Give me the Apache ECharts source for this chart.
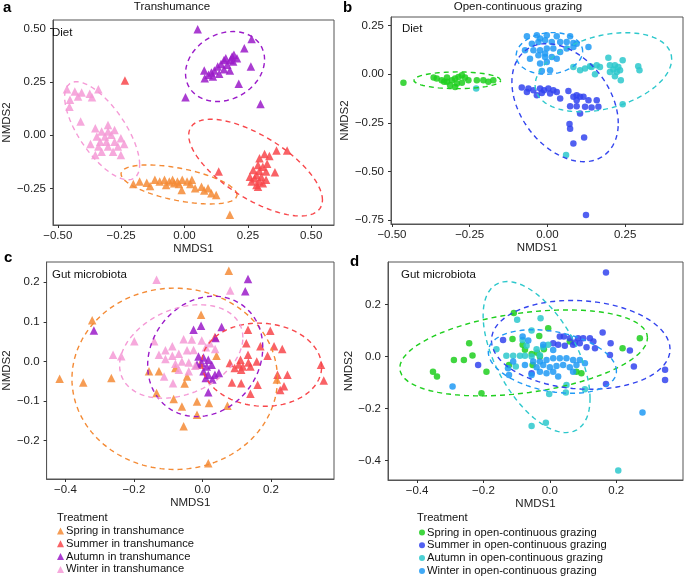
<!DOCTYPE html>
<html><head><meta charset="utf-8">
<script src="https://cdn.jsdelivr.net/npm/echarts@6/dist/echarts.min.js"></script>
<style>html,body{margin:0;padding:0;background:#fff}#c{width:685px;height:577px}</style>
</head><body><div id="c"></div>
<script>
// ---------- Tick values ----------
const ticksA_x = [-0.5, -0.25, 0, 0.25, 0.5];
const ticksA_y = [-0.25, 0, 0.25, 0.5];
const ticksB_x = [-0.5, -0.25, 0, 0.25];
const ticksB_y = [-0.75, -0.5, -0.25, 0, 0.25];
const ticksC_x = [-0.4, -0.2, 0, 0.2];
const ticksC_y = [-0.2, -0.1, 0, 0.1, 0.2];
const ticksD_x = [-0.4, -0.2, 0, 0.2];
const ticksD_y = [-0.4, -0.2, 0, 0.2];
// axis extents
const rangeA = [-0.519, 0.590, -0.4205, 0.540];
const rangeB = [-0.503, 0.436, -0.769, 0.294];
const rangeC = [-0.455, 0.384, -0.297, 0.251];
const rangeD = [-0.4875, 0.401, -0.474, 0.363];

const groupsTrans = ["Spring in transhumance", "Summer in transhumance", "Autumn in transhumance", "Winter in transhumance"];
const groupsOpen = ["Spring in open-continuous grazing", "Summer in open-continuous grazing", "Autumn in open-continuous grazing", "Winter in open-continuous grazing"];

// ---------- Panel a: Transhumance diet ----------
const aSpring = [[-0.202,-0.228],[-0.177,-0.217],[-0.149,-0.222],[-0.136,-0.2375],[-0.117,-0.209],[-0.098,-0.217],[-0.079,-0.209],[-0.060,-0.217],[-0.047,-0.209],[-0.028,-0.217],[-0.009,-0.209],[0.010,-0.217],[0.029,-0.209],[0.023,-0.228],[-0.022,-0.228],[-0.0725,-0.233],[0.067,-0.241],[0.093,-0.248],[0.106,-0.272],[0.125,-0.280],[-0.011,-0.256],[0.042,-0.248],[0.078,-0.259],[-0.041,-0.225],[0.179,-0.373]];
const aSummer = [[-0.235,0.256],[0.135,-0.170],[0.316,-0.0875],[0.363,-0.072],[0.405,-0.072],[0.335,-0.097],[0.296,-0.108],[0.326,-0.134],[0.290,-0.139],[0.309,-0.147],[0.271,-0.1625],[0.296,-0.166],[0.322,-0.170],[0.357,-0.173],[0.284,-0.186],[0.258,-0.194],[0.303,-0.194],[0.277,-0.202],[0.322,-0.209],[0.265,-0.217],[0.296,-0.217],[0.284,-0.233],[0.309,-0.225],[0.290,-0.241]];
const aAutumn = [[0.052,0.497],[0.265,0.451],[0.236,0.408],[0.195,0.377],[0.207,0.361],[0.182,0.353],[0.156,0.353],[0.144,0.334],[0.169,0.330],[0.131,0.322],[0.156,0.309],[0.118,0.303],[0.106,0.294],[0.078,0.303],[0.095,0.283],[0.080,0.267],[0.112,0.275],[0.137,0.288],[0.179,0.303],[0.192,0.345],[0.163,0.361],[0.188,0.369],[0.262,0.322],[0.214,0.241],[0.004,0.178],[0.300,0.147]];
const aWinter = [[-0.464,0.216],[-0.433,0.205],[-0.406,0.200],[-0.374,0.194],[-0.340,0.216],[-0.452,0.166],[-0.420,0.181],[-0.365,0.178],[-0.454,0.134],[-0.410,0.064],[-0.352,0.033],[-0.302,0.048],[-0.327,0.017],[-0.302,0.017],[-0.276,0.025],[-0.314,-0.006],[-0.289,0.002],[-0.346,-0.006],[-0.251,-0.014],[-0.333,-0.030],[-0.308,-0.030],[-0.276,-0.030],[-0.371,-0.041],[-0.340,-0.053],[-0.302,-0.053],[-0.263,-0.053],[-0.238,-0.041],[-0.327,-0.077],[-0.282,-0.077],[-0.251,-0.092],[-0.352,-0.092]];
// ellipses: [centre x, centre y, half width, half height, correlation]
const aEllSpring = [-0.0216, -0.2305, 0.229, 0.0914, -0.54];
const aEllSummer = [0.2805, -0.1516, 0.264, 0.2266, -0.67];
const aEllAutumn = [0.160, 0.322, 0.156, 0.164, 0.2];
const aEllWinter = [-0.325, 0.021, 0.148, 0.230, -0.69];

// ---------- Panel b: Open-continuous grazing diet ----------
const bSpring = [[-0.463,-0.044],[-0.356,-0.022],[-0.340,-0.031],[-0.323,-0.039],[-0.307,-0.031],[-0.297,-0.022],[-0.286,-0.014],[-0.275,-0.005],[-0.265,-0.017],[-0.291,-0.048],[-0.313,-0.056],[-0.332,-0.039],[-0.297,-0.065],[-0.275,-0.044],[-0.254,-0.031],[-0.227,-0.031],[-0.206,-0.031],[-0.190,-0.039],[-0.174,-0.031],[-0.366,-0.017],[-0.323,-0.017]];
const bSummer = [[-0.0825,-0.068],[-0.061,-0.0735],[-0.045,-0.082],[-0.0236,-0.0735],[-0.0107,-0.082],[0.003,-0.0735],[0.019,-0.082],[0.030,-0.0906],[0.0086,-0.099],[-0.018,-0.0957],[-0.034,-0.108],[-0.066,-0.0906],[0.0675,-0.0855],[0.0835,-0.116],[0.094,-0.108],[0.105,-0.116],[0.116,-0.116],[0.132,-0.133],[0.1585,-0.133],[0.041,-0.125],[0.094,-0.133],[0.073,-0.164],[0.094,-0.164],[0.121,-0.1675],[0.142,-0.171],[0.164,-0.1675],[0.105,-0.202],[0.071,-0.256],[0.073,-0.280],[0.118,-0.325],[0.0835,-0.356],[0.124,-0.723]];
const bAutumn = [[-0.229,-0.0735],[0.060,-0.415],[0.242,-0.154],[0.0835,0.0376],[0.105,0.0205],[0.121,0.029],[0.142,0.0376],[0.1585,0.046],[0.169,0.0376],[0.196,0.085],[0.201,0.046],[0.217,0.046],[0.212,0.024],[0.228,0.0376],[0.242,0.072],[0.223,0.012],[0.201,0.012],[0.217,-0.010],[0.236,-0.031],[0.2335,0.0205],[0.292,0.041],[0.296,0.0205],[0.153,0.0],[0.137,0.041]];
const bWinter = [[-0.066,0.195],[-0.034,0.200],[-0.0236,0.183],[-0.002,0.200],[0.030,0.195],[0.073,0.195],[-0.050,0.157],[-0.029,0.166],[-0.0075,0.174],[0.014,0.166],[0.041,0.166],[0.062,0.166],[0.0835,0.161],[0.094,0.157],[-0.072,0.123],[-0.045,0.123],[-0.0236,0.123],[-0.002,0.132],[0.019,0.132],[0.041,0.1145],[0.062,0.132],[0.0835,0.140],[-0.056,0.080],[-0.029,0.097],[-0.0075,0.089],[0.014,0.089],[-0.0236,0.055],[-0.002,0.063],[0.0086,0.0205],[-0.018,0.017],[0.132,0.140],[0.030,0.080],[-0.0075,0.106]];
const bEllSpring = [-0.290, -0.031, 0.140, 0.043, 0.0];
const bEllSummer = [0.0568, -0.146, 0.171, 0.303, -0.35];
const bEllAutumn = [0.180, 0.0103, 0.2196, 0.203, 0.33];
const bEllWinter = [0.0064, 0.107, 0.107, 0.107, 0.1];

// ---------- Panel c: Transhumance gut microbiota ----------
const cSpring = [[0.077,0.229],[-0.004,0.118],[-0.322,0.104],[-0.417,-0.044],[-0.348,-0.053],[-0.266,-0.042],[-0.156,-0.025],[-0.127,-0.025],[-0.079,-0.017],[-0.045,-0.038],[-0.052,-0.056],[-0.134,-0.080],[-0.084,-0.095],[-0.060,-0.114],[-0.016,-0.101],[0.019,-0.105],[-0.016,-0.135],[-0.055,-0.164],[0.017,-0.257],[0.073,-0.112],[0.041,0.014],[0.217,-0.046],[-0.007,-0.008]];
const cSummer = [[0.133,0.080],[0.128,0.046],[0.169,0.038],[0.209,0.038],[0.233,0.031],[0.198,0.0775],[0.190,0.014],[0.133,0.017],[0.111,0.004],[0.080,-0.004],[0.106,-0.008],[0.118,-0.0126],[0.134,-0.0025],[0.1585,0.0],[0.094,-0.017],[0.113,-0.021],[0.140,-0.0126],[0.219,-0.034],[0.248,-0.034],[0.238,-0.063],[0.227,-0.072],[0.161,-0.059],[0.140,-0.082],[0.113,-0.055],[0.086,-0.053],[0.346,-0.0084],[0.354,-0.048],[0.0365,0.0615]];
const cAutumn = [[0.133,0.208],[0.125,0.177],[-0.317,0.078],[-0.026,0.080],[-0.004,0.090],[0.056,0.087],[0.038,0.059],[-0.0115,0.0126],[0.003,0.010],[0.017,0.004],[-0.002,-0.004],[0.0125,-0.0126],[0.027,-0.0084],[0.003,-0.025],[0.017,-0.034],[0.0365,-0.034],[0.048,-0.029],[0.0096,-0.042],[0.029,-0.046],[0.017,-0.078],[-0.016,-0.008]];
const cWinter = [[-0.134,0.206],[0.081,0.179],[-0.199,0.051],[-0.261,0.017],[-0.237,0.013],[-0.141,0.051],[-0.108,0.028],[-0.088,0.038],[-0.055,0.056],[-0.031,0.055],[-0.002,0.053],[-0.127,0.017],[-0.108,0.006],[-0.088,0.014],[-0.069,0.019],[-0.045,0.028],[-0.026,0.029],[-0.079,-0.006],[-0.060,0.0],[-0.040,-0.0025],[-0.040,-0.025],[-0.069,-0.021],[-0.086,-0.055],[-0.021,-0.011],[0.010,0.036],[0.022,0.046],[0.037,0.031],[-0.112,-0.038]];
const cEllSpring = [-0.081, -0.044, 0.300, 0.229, 0.0];
const cEllSummer = [0.173, -0.0084, 0.175, 0.105, -0.05];
const cEllAutumn = [0.008, 0.0126, 0.168, 0.152, 0.15];
const cEllWinter = [-0.062, 0.025, 0.180, 0.118, 0.3];

// ---------- Panel d: Open-continuous grazing gut microbiota ----------
const dSpring = [[-0.1085,0.167],[-0.243,0.051],[-0.233,0.004],[-0.259,-0.013],[-0.289,-0.013],[-0.352,-0.058],[-0.340,-0.077],[-0.206,-0.141],[-0.191,-0.058],[-0.123,-0.032],[-0.1125,0.067],[-0.082,0.045],[-0.075,0.026],[-0.055,0.010],[-0.038,0.015],[-0.032,0.079],[-0.005,0.109],[-0.018,0.028],[-0.052,-0.032],[0.060,0.058],[0.080,-0.058],[0.095,-0.064],[0.219,0.032],[0.271,0.0705],[-0.030,0.0]];
const dSummer = [[0.169,0.323],[-0.216,-0.032],[-0.141,0.064],[0.030,0.077],[0.042,0.077],[0.060,0.0705],[0.085,0.0705],[0.1005,0.0705],[0.1206,0.0705],[0.131,0.058],[0.010,0.051],[0.025,0.045],[0.045,0.041],[0.070,0.045],[0.090,0.051],[0.1105,0.036],[0.136,0.032],[0.159,0.092],[0.183,0.051],[0.181,0.0064],[0.241,0.023],[0.253,-0.038],[0.347,-0.051],[0.347,-0.090],[0.169,-0.105],[-0.055,-0.064],[0.075,0.054]];
const dAutumn = [[-0.0985,0.141],[-0.028,0.1475],[-0.055,0.100],[-0.161,0.028],[-0.131,0.0026],[-0.1105,0.0026],[-0.090,0.0026],[-0.070,0.041],[-0.040,0.028],[-0.020,0.036],[-0.005,0.045],[-0.030,0.005],[-0.055,0.0],[-0.075,0.0026],[-0.1025,-0.038],[0.050,-0.109],[0.048,-0.138],[-0.002,-0.144],[-0.055,-0.267],[-0.012,-0.254],[0.206,-0.438],[0.1055,-0.126],[-0.082,0.064]];
const dWinter = [[-0.293,-0.115],[0.279,-0.215],[-0.123,-0.0705],[-0.1105,-0.019],[-0.050,-0.019],[-0.030,-0.019],[-0.010,-0.0128],[0.010,-0.0064],[0.030,-0.0064],[0.050,-0.0064],[0.070,-0.0128],[0.090,-0.0128],[-0.040,-0.041],[-0.020,-0.032],[0.0,-0.041],[0.020,-0.036],[0.040,-0.032],[0.060,-0.041],[0.080,-0.032],[-0.030,-0.058],[-0.010,-0.064],[0.010,-0.058],[0.025,-0.077],[-0.055,-0.0705],[0.070,-0.058],[0.1055,-0.0256],[-0.126,-0.045],[-0.075,-0.032],[-0.082,0.077],[-0.065,0.0615],[-0.020,0.045],[0.010,0.0256]];
const dEllSpring = [-0.079, 0.014, 0.373, 0.165, 0.35];
const dEllSummer = [0.093, 0.045, 0.269, 0.1705, -0.1];
const dEllAutumn = [-0.040, -0.002, 0.161, 0.290, -0.55];
const dEllWinter = [0.0075, -0.019, 0.193, 0.122, -0.3];

// ---------- styling ----------
const colTrans = ["#F48B36", "#F8474B", "#9B1BC9", "#F59AD6"];
const colOpen = ["#1FCF1F", "#3344EE", "#2DC8CC", "#209AF5"];
const FONT = "Liberation Sans, Arial, Helvetica, sans-serif";

function ellipse(e) {
  const [cx, cy, w, h, r] = e;
  const s = Math.sqrt(1 - r * r);
  const pts = [];
  for (let k = 0; k <= 140; k++) {
    const t = 2 * Math.PI * k / 140;
    pts.push([cx + w * Math.cos(t), cy + h * (r * Math.cos(t) + s * Math.sin(t))]);
  }
  return pts;
}
function fmt(d) { return v => (v < 0 ? "\u2212" : "") + Math.abs(v).toFixed(d); }

const grids = [
  {left: 43, top: 20, width: 291, height: 205},
  {left: 391, top: 17, width: 292, height: 207},
  {left: 43, top: 262, width: 291, height: 217},
  {left: 388, top: 262, width: 295, height: 218}
];
const ranges = [rangeA, rangeB, rangeC, rangeD];
const xt = [ticksA_x, ticksB_x, ticksC_x, ticksD_x];
const yt = [ticksA_y, ticksB_y, ticksC_y, ticksD_y];
const dec = [2, 2, 1, 1];
const yGap = [33, 37, 33, 29];

const xAxes = [], yAxes = [];
for (let i = 0; i < 4; i++) {
  const common = {type: "value", splitLine: {show: false},
    axisLine: {show: true, onZero: false, lineStyle: {color: "#555", width: 1}},
    nameTextStyle: {fontFamily: FONT, fontSize: 11.5, color: "#222"},
  };
  xAxes.push(Object.assign({}, common, {gridIndex: i, position: "bottom", min: ranges[i][0], max: ranges[i][1],
    axisTick: {show: true, length: 3, lineStyle: {color: "#333"}, customValues: xt[i]},
    axisLabel: {customValues: xt[i], formatter: fmt(dec[i]), margin: 5, fontFamily: FONT, fontSize: 11.5, color: "#222"},
    name: "NMDS1", nameLocation: "middle", nameGap: 18}));
  yAxes.push(Object.assign({}, common, {gridIndex: i, position: "left", min: ranges[i][2], max: ranges[i][3],
    axisTick: {show: true, length: 3, lineStyle: {color: "#333"}, customValues: yt[i]},
    axisLabel: {customValues: yt[i], formatter: fmt(dec[i]), margin: 7, fontFamily: FONT, fontSize: 11.5, color: "#222"},
    name: "NMDS2", nameLocation: "middle", nameGap: yGap[i]}));
}

const panels = [
  {pts: [aSpring, aSummer, aAutumn, aWinter], ell: [aEllSpring, aEllSummer, aEllAutumn, aEllWinter], names: groupsTrans, cols: colTrans, sym: "triangle", size: 8.5},
  {pts: [bSpring, bSummer, bAutumn, bWinter], ell: [bEllSpring, bEllSummer, bEllAutumn, bEllWinter], names: groupsOpen, cols: colOpen, sym: "circle", size: 6.5},
  {pts: [cSpring, cSummer, cAutumn, cWinter], ell: [cEllSpring, cEllSummer, cEllAutumn, cEllWinter], names: groupsTrans, cols: colTrans, sym: "triangle", size: 8.5},
  {pts: [dSpring, dSummer, dAutumn, dWinter], ell: [dEllSpring, dEllSummer, dEllAutumn, dEllWinter], names: groupsOpen, cols: colOpen, sym: "circle", size: 6.5}
];
const series = [];
panels.forEach((p, i) => {
  p.pts.forEach((d, g) => {
    series.push({type: "scatter", name: p.names[g], xAxisIndex: i, yAxisIndex: i, data: d,
      symbol: p.sym, symbolSize: p.size, itemStyle: {color: p.cols[g], opacity: 0.85}, z: 2});
  });
  p.ell.forEach((e, g) => {
    series.push({type: "line", name: "ellipse " + i + "-" + g, xAxisIndex: i, yAxisIndex: i, data: ellipse(e),
      showSymbol: false, symbol: "none", silent: true,
      lineStyle: {color: p.cols[g], width: 1.4, type: [5, 4]}, z: 3});
  });
});

const txt = (x, y, s, size, extra) => ({type: "text", z: 10,
  style: Object.assign({x: x, y: y, text: s, fontFamily: FONT, fontSize: size || 11.5, fill: "#111", textVerticalAlign: "middle"}, extra || {})});
const bold = {fontSize: 15, fontWeight: "bold", fill: "#000"};

const option = {
  animation: false,
  backgroundColor: "#fff",
  grid: grids.map(g => Object.assign({show: true, borderColor: "#555", borderWidth: 1, backgroundColor: "transparent", containLabel: false}, g)),
  xAxis: xAxes, yAxis: yAxes,
  series: series,
  legend: [
    {data: groupsTrans.map(n => ({name: n, icon: "triangle"})), orient: "vertical", left: 57, top: 525, height: 60,
      padding: 0, itemWidth: 7, itemHeight: 7, itemGap: 0.8, selectedMode: false,
      textStyle: {fontFamily: FONT, fontSize: 11.2, color: "#111", lineHeight: 12, padding: [0, 0, 0, -3]}},
    {data: groupsOpen.map(n => ({name: n, icon: "circle"})), orient: "vertical", left: 419, top: 526.5, height: 60,
      padding: 0, itemWidth: 6, itemHeight: 6, itemGap: 0.8, selectedMode: false,
      textStyle: {fontFamily: FONT, fontSize: 11.2, color: "#111", lineHeight: 12, padding: [0, 0, 0, -3]}}
  ],
  graphic: [
    txt(3, 8, "a", 15, bold),
    txt(343, 8, "b", 15, bold),
    txt(4, 258, "c", 15, bold),
    txt(350, 262, "d", 15, bold),
    txt(172, 7, "Transhumance", 11.5, {textAlign: "center"}),
    txt(518, 7, "Open-continuous grazing", 11.5, {textAlign: "center"}),
    txt(52, 33, "Diet"),
    txt(402, 29, "Diet"),
    txt(52, 275, "Gut microbiota"),
    txt(401, 275, "Gut microbiota"),
    txt(57, 518, "Treatment", 11.2),
    txt(417, 518, "Treatment", 11.2)
  ]
};
const chart = echarts.init(document.getElementById("c"), null, {renderer: "canvas"});
chart.setOption(option);
</script></body></html>
